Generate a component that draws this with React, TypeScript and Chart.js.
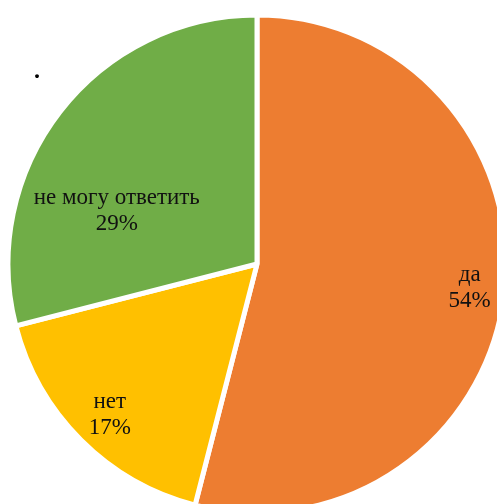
import React, { useEffect, useRef } from "react";
import { Chart, registerables } from "chart.js";

Chart.register(...registerables);

const categories = ["да", "нет", "не могу ответить"];
const values = [54, 17, 29];
const colors = ["#ED7D31", "#FFC000", "#70AD47"];
const labelOffsets = [
  [0.854, 0.097],
  [-0.591, 0.607],
  [-0.563, -0.215],
];

const labelPlugin = {
  id: "sliceLabels",
  afterDatasetsDraw(chart: any) {
    const ctx = chart.ctx;
    const meta = chart.getDatasetMeta(0);
    ctx.save();
    ctx.font = "23px 'Liberation Serif', 'Times New Roman', serif";
    ctx.fillStyle = "#111111";
    ctx.textAlign = "center";
    ctx.textBaseline = "middle";
    meta.data.forEach((arc: any, i: number) => {
      const { x, y, outerRadius } = arc.getProps(["x", "y", "outerRadius"], true);
      const cx = x + labelOffsets[i][0] * outerRadius;
      const cy = y + labelOffsets[i][1] * outerRadius;
      ctx.fillText(categories[i], cx, cy - 13);
      ctx.fillText(values[i] + "%", cx, cy + 13);
    });
    ctx.restore();
  },
};

export default function App() {
  const ref = useRef<HTMLCanvasElement>(null);
  useEffect(() => {
    const chart = new Chart(ref.current!, {
      type: "pie",
      data: {
        labels: categories,
        datasets: [
          {
            data: values,
            backgroundColor: colors,
            borderColor: "#ffffff",
            borderWidth: 5,
            radius: 249,
          },
        ],
      },
      options: {
        responsive: false,
        animation: false,
        devicePixelRatio: 1,
        layout: { padding: 0 },
        plugins: {
          legend: { display: false },
          tooltip: { enabled: false },
        },
      },
      plugins: [labelPlugin],
    });
    return () => chart.destroy();
  }, []);
  return (
    <div
      style={{
        position: "fixed",
        left: 0,
        top: 0,
        width: 497,
        height: 504,
        overflow: "hidden",
        background: "#fff",
      }}
    >
      <canvas ref={ref} width={514} height={528} style={{ display: "block" }} />
      <span
        style={{
          position: "absolute",
          left: 34,
          top: 56,
          fontFamily: "'Liberation Serif', serif",
          fontSize: 24,
          fontWeight: "bold",
          lineHeight: "28px",
          color: "#000",
        }}
      >
        .
      </span>
    </div>
  );
}
